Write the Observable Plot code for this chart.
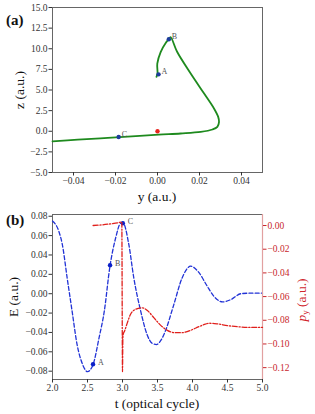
<!DOCTYPE html>
<html><head><meta charset="utf-8">
<script src="https://cdn.jsdelivr.net/npm/d3@7"></script>
<script src="https://cdn.jsdelivr.net/npm/@observablehq/plot@0.6"></script>
<style>
body{margin:0;background:#fff;}
#wrap{position:relative;width:315px;height:414px;overflow:hidden;font-family:"Liberation Serif",serif;background:#fff;}
#wrap svg, #wrap svg text{font-family:"Liberation Serif",serif !important;}
.layer{position:absolute;left:0;}
.lbl{position:absolute;font-size:13.5px;color:#111;white-space:nowrap;line-height:1;}
.rot{transform:translate(-50%,-50%) rotate(-90deg);}
.hc{transform:translate(-50%,-50%);}
.tag{position:absolute;font-size:15px;font-weight:bold;color:#111;line-height:1;}
</style></head><body><div id="wrap"></div>
<script>
// ---------- Panel (a): trajectory in (y, z) ----------
const trajY = [-0.0005, 0.0000, -0.0001, 0.0015, 0.0039, 0.0054, 0.0062, 0.0094, 0.0158, 0.0222, 0.0269, 0.0289, 0.0293, 0.0285, 0.0262, 0.0206, 0.0110, 0.0006, -0.0180, -0.0272, -0.0380, -0.0500];
const trajZ = [6.6, 7.0, 8.2, 9.6, 10.7, 11.16, 11.4, 9.6, 7.0, 4.57, 2.76, 1.74, 1.13, 0.53, 0.21, -0.08, -0.27, -0.42, -0.72, -0.86, -1.02, -1.22];
const ptNames = ["A", "B", "C"];
const ptY = [0.0005, 0.0054, -0.0185];
const ptZ = [6.9, 11.16, -0.7];
const originY = [0];
const originZ = [0];
const yTicksA = [-0.04, -0.02, 0, 0.02, 0.04];
const zTicksA = [-5, -2.5, 0, 2.5, 5, 7.5, 10, 12.5, 15];

// ---------- Panel (b): field E(t) and momentum p_y(t) ----------
const tE = [2.0, 2.09, 2.14, 2.21, 2.28, 2.35, 2.43, 2.5, 2.58, 2.665, 2.74, 2.82, 2.9, 2.975, 3.005, 3.09, 3.16, 3.26, 3.35, 3.42, 3.486, 3.55, 3.61, 3.73, 3.85, 3.974, 4.09, 4.2, 4.31, 4.428, 4.55, 4.69, 4.8, 5.0];
const E  = [0.075, 0.0645, 0.051, 0.016, -0.018, -0.052, -0.073, -0.0805, -0.073, -0.0456, -0.018, 0.028, 0.057, 0.073, 0.0735, 0.051, 0.017, -0.018, -0.042, -0.051, -0.0525, -0.048, -0.039, -0.012, 0.016, 0.0284, 0.022, 0.009, -0.003, -0.0085, -0.006, 0.0, 0.0005, 0.0005];
const tP = [2.58, 2.7, 2.83, 2.93, 2.99, 3.0, 3.005, 3.01, 3.03, 3.07, 3.11, 3.18, 3.28, 3.36, 3.45, 3.55, 3.64, 3.75, 3.85, 3.95, 4.05, 4.15, 4.24, 4.35, 4.5, 4.65, 4.8, 5.0];
const P  = [0.0, 0.0005, 0.0014, 0.0022, 0.003, -0.1234, -0.095, -0.092, -0.089, -0.082, -0.0755, -0.071, -0.0695, -0.072, -0.078, -0.0845, -0.0885, -0.0905, -0.0905, -0.089, -0.0865, -0.084, -0.0825, -0.083, -0.0845, -0.0855, -0.086, -0.086];
const markT = [2.579, 2.822, 3.005];
const markE = [-0.0728, 0.0294, 0.0728];
const markNames = ["A", "B", "C"];
const tTicks = [2.0, 2.5, 3.0, 3.5, 4.0, 4.5, 5.0];
const eTicks = [-0.08, -0.06, -0.04, -0.02, 0, 0.02, 0.04, 0.06, 0.08];
const pTicks = [0, -0.02, -0.04, -0.06, -0.08, -0.10, -0.12];

const wrap = document.getElementById("wrap");
const f1 = d3.format(".1f"), f2 = d3.format(".2f");
const font = {fontFamily: "Liberation Serif", fontSize: "9.5px", background: "transparent", overflow: "visible"};
const ax = {tickSize: 3.5, tickPadding: 1.5, label: null, fontSize: 9.5, fontFamily: "Liberation Serif"};

function place(el, top) {
  const d = document.createElement("div");
  d.className = "layer"; d.style.top = top + "px";
  d.appendChild(el); wrap.appendChild(d);
}
function label(html, x, y, cls, color) {
  const d = document.createElement("div");
  d.className = "lbl " + cls; d.innerHTML = html;
  d.style.left = x + "px"; d.style.top = y + "px";
  if (color) d.style.color = color;
  wrap.appendChild(d);
}
function tag(txt, x, y) {
  const d = document.createElement("div");
  d.className = "tag"; d.textContent = txt;
  d.style.left = x + "px"; d.style.top = y + "px";
  wrap.appendChild(d);
}

const trajData = trajY.map((y, i) => ({y, z: trajZ[i]}));
const ptData = ptNames.map((n, i) => ({n, y: ptY[i], z: ptZ[i]}));
const orig = originY.map((y, i) => ({y, z: originZ[i]}));

const plotA = Plot.plot({
  width: 315, height: 200,
  marginLeft: 52, marginRight: 53, marginTop: 7, marginBottom: 28,
  style: font,
  x: {domain: [-0.05, 0.05], label: null},
  y: {domain: [-5, 15], label: null},
  marks: [
    Plot.frame({stroke: "#666"}),
    Plot.axisX({...ax, ticks: yTicksA, tickFormat: f2, color: "#333"}),
    Plot.axisY({...ax, ticks: zTicksA, tickFormat: f1, color: "#333"}),
    Plot.line(trajData, {x: "y", y: "z", stroke: "#1e8a1e", strokeWidth: 1.8, curve: "catmull-rom"}),
    Plot.dot(orig, {x: "y", y: "z", r: 2.2, fill: "#e8251f"}),
    Plot.dot(ptData, {x: "y", y: "z", r: 2.2, fill: "#1c3c9c"}),
    Plot.text(ptData, {x: "y", y: "z", text: "n", dx: 3, dy: -3, fontSize: 8, fontFamily: "Liberation Serif", fill: "#555", textAnchor: "start"})
  ]
});
place(plotA, 0);

const eData = tE.map((t, i) => ({t, v: E[i]}));
const pData = tP.map((t, i) => ({t, v: P[i]}));
const mData = markT.map((t, i) => ({t, v: markE[i], n: markNames[i]}));

const plotB = Plot.plot({
  width: 315, height: 214,
  marginLeft: 52, marginRight: 53, marginTop: 14, marginBottom: 35,
  style: font,
  x: {domain: [2, 5], label: null},
  y: {domain: [-0.0886, 0.0818], label: null},
  marks: [
    Plot.frame({stroke: "#666"}),
    Plot.axisX({...ax, ticks: tTicks, tickFormat: f1, color: "#333"}),
    Plot.axisY({...ax, ticks: eTicks, tickFormat: f2, color: "#333"}),
    Plot.line(eData, {x: "t", y: "v", stroke: "#2233d6", strokeWidth: 1.3, strokeDasharray: "4,2.2", curve: "monotone-x"}),
    Plot.dot(mData, {x: "t", y: "v", r: 2.2, fill: "#0a1fc8"}),
    Plot.text(mData, {x: "t", y: "v", text: "n", dx: 5, dy: -2, fontSize: 8, fontFamily: "Liberation Serif", fill: "#555", textAnchor: "start"})
  ]
});
place(plotB, 200);

const plotP = Plot.plot({
  width: 315, height: 214,
  marginLeft: 52, marginRight: 53, marginTop: 14, marginBottom: 35,
  style: font,
  x: {domain: [2, 5], label: null, axis: null},
  y: {domain: [-0.130, 0.0093], label: null},
  marks: [
    Plot.ruleX([5], {stroke: "#e2a0a0", strokeWidth: 1.2}),
    Plot.axisY({...ax, anchor: "right", ticks: pTicks, tickFormat: f2, color: "#c8262c"}),
    Plot.line(pData, {x: "t", y: "v", stroke: "#e0201c", strokeWidth: 1.3, strokeDasharray: "5,1.8,1.2,1.8", curve: "monotone-x"})
  ]
});
place(plotP, 200);

// labels
tag("(a)", 6, 13);
tag("(b)", 6, 213);
label("z (a.u.)", 20, 90, "rot");
label("y (a.u.)", 157, 197, "hc");
label("E (a.u.)", 14, 297, "rot");
label("t (optical cycle)", 157, 404, "hc");
label("<i>p</i><sub style='font-size:9px;vertical-align:-2px'>y</sub> (a.u.)", 302, 300, "rot", "#d0262c");
</script></body></html>
